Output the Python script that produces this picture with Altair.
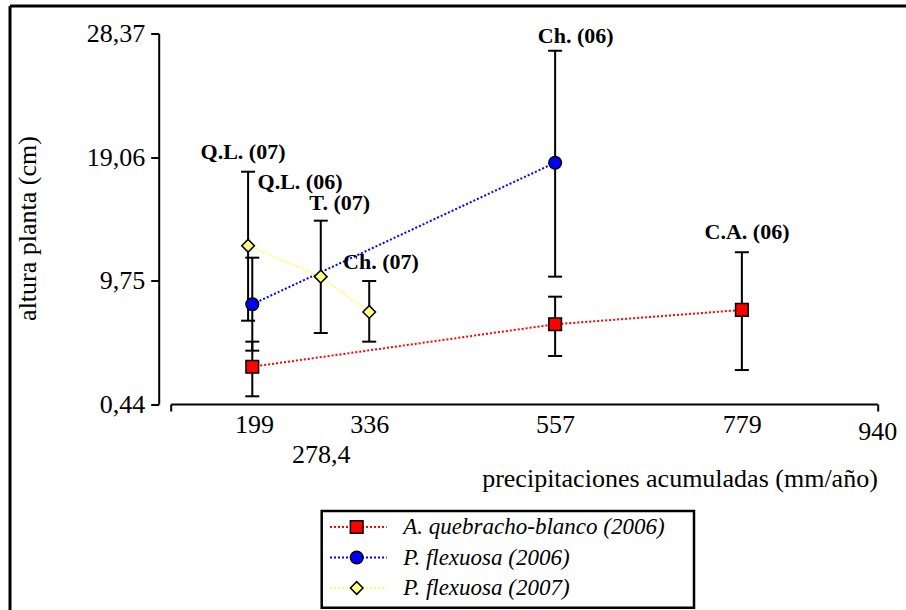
import altair as alt
import pandas as pd

# ---- data ----
series = ["A. quebracho-blanco (2006)", "P. flexuosa (2006)", "P. flexuosa (2007)"]
fill_colors = ["#ff0000", "#0000ff", "#ffff80"]
line_colors = ["#ff0000", "#0000ff", "#ffff66"]
shapes = ["square", "circle", "diamond"]
sizes = [160, 160, 185]

red_x = [197, 557, 779]
red_y = [3.25, 6.45, 7.53]
red_lo = [1.02, 4.06, 3.00]
red_hi = [5.14, 8.53, 11.88]

blue_x = [197, 557]
blue_y = [7.96, 18.63]
blue_lo = [4.46, 10.04]
blue_hi = [11.47, 27.07]

yel_x = [192, 278.4, 336]
yel_y = [12.37, 10.04, 7.38]
yel_lo = [6.72, 5.79, 5.14]
yel_hi = [17.95, 14.26, 9.71]

ann_text = ["Q.L. (07)", "Q.L. (06)", "T. (07)", "Ch. (07)", "Ch. (06)", "C.A. (06)"]
ann_x = [186, 253.7, 300.9, 350, 581.5, 785.1]
ann_y = [19.46, 17.2, 15.57, 11.12, 28.2, 13.43]

x_ticks = [100, 199, 278.4, 336, 557, 779, 940]
y_ticks = [0.44, 9.75, 19.06, 28.37]
x_domain = [100, 940]
y_domain = [0.44, 28.37]

# ---- tables ----
rows = []
for name, xs, ys, los, his in [
    (series[0], red_x, red_y, red_lo, red_hi),
    (series[1], blue_x, blue_y, blue_lo, blue_hi),
    (series[2], yel_x, yel_y, yel_lo, yel_hi),
]:
    for a, b, c, d in zip(xs, ys, los, his):
        rows.append({"serie": name, "x": a, "y": b, "lo": c, "hi": d})
df = pd.DataFrame(rows)
ann = pd.DataFrame({"t": ann_text, "x": ann_x, "y": ann_y})
leg = pd.DataFrame({"serie": series, "row": list(range(len(series)))})
one = pd.DataFrame({"k": [0]})

W, H = 706.6, 370.5
FONT = "Liberation Serif, Times New Roman, Times, serif"

xs = alt.Scale(domain=x_domain, nice=False, zero=False)
ys = alt.Scale(domain=y_domain, nice=False, zero=False)
stroke_sc = alt.Scale(domain=series, range=line_colors)
fill_sc = alt.Scale(domain=series, range=fill_colors)
shape_sc = alt.Scale(domain=series, range=shapes)
size_sc = alt.Scale(domain=series, range=sizes)

x_axis = alt.Axis(
    values=x_ticks,
    labelExpr="datum.value == 100 ? '' : replace(toString(datum.value), '.', ',')",
    tickSize=7,
    tickOpacity={"condition": {"test": "datum.value == 100 || datum.value == 940", "value": 1}, "value": 0},
    labelPadding={"condition": [{"test": "datum.value == 278.4", "value": 30},
                                {"test": "datum.value == 940", "value": 7}], "value": 0},
    labelFontSize=26,
    labelOverlap=False,
    labelFlush=False,
    labelBound=False,
    title="precipitaciones acumuladas (mm/año)",
    titleFontSize=26,
    titleAnchor="end",
    titleAlign="right",
    titleBaseline="middle",
    titleX=W,
    titleY=74,
)
y_axis = alt.Axis(
    values=y_ticks,
    labelExpr="replace(toString(datum.value), '.', ',')",
    tickSize=8,
    offset=12,
    labelPadding=6,
    labelFontSize=26,
    title="altura planta (cm)",
    titleFontSize=26,
    titleAngle=270,
    titleAlign="center",
    titleBaseline="middle",
    titleX=-131.7,
    titleY=194.5,
)

base = alt.Chart(df)

lines = base.mark_line(strokeDash=[2, 2], strokeWidth=2).encode(
    x=alt.X("x:Q", scale=xs, axis=x_axis),
    y=alt.Y("y:Q", scale=ys, axis=y_axis),
    stroke=alt.Stroke("serie:N", scale=stroke_sc, legend=None),
    detail="serie:N",
    order="x:Q",
)

err = base.mark_rule(color="black", strokeWidth=2).encode(
    x="x:Q", y="lo:Q", y2="hi:Q"
)
cap_lo = base.mark_tick(orient="horizontal", size=14, thickness=2, color="black", opacity=1).encode(
    x="x:Q", y="lo:Q"
)
cap_hi = base.mark_tick(orient="horizontal", size=14, thickness=2, color="black", opacity=1).encode(
    x="x:Q", y="hi:Q"
)

pts = base.mark_point(filled=True, stroke="black", strokeWidth=1.5, opacity=1, fillOpacity=1).encode(
    x="x:Q",
    y="y:Q",
    fill=alt.Fill("serie:N", scale=fill_sc, legend=None),
    shape=alt.Shape("serie:N", scale=shape_sc, legend=None),
    size=alt.Size("serie:N", scale=size_sc, legend=None),
)

labels = alt.Chart(ann).mark_text(
    font=FONT, fontWeight="bold", fontSize=22, baseline="middle", align="center", color="black"
).encode(x="x:Q", y="y:Q", text="t:N")

# ---- figure frame (top and left edges) ----
frame_top = alt.Chart(one).mark_rule(color="black", strokeWidth=3).encode(
    x=alt.value(-160.7), x2=alt.value(735.3), y=alt.value(-27.5)
)
frame_left = alt.Chart(one).mark_rule(color="black", strokeWidth=3).encode(
    x=alt.value(-160.7), y=alt.value(-27.5), y2=alt.value(576.5)
)

# ---- legend box ----
leg_box = alt.Chart(one).mark_rect(fill="white", stroke="black", strokeWidth=2.5).encode(
    x=alt.value(151), x2=alt.value(523.3), y=alt.value(477.5), y2=alt.value(574.2)
)
legb = alt.Chart(leg).transform_calculate(py="493.5 + 30.5 * datum.row")
leg_line = legb.mark_rule(strokeDash=[2, 2], strokeWidth=2).encode(
    x=alt.value(159.3), x2=alt.value(216),
    y=alt.Y("py:Q", scale=None),
    stroke=alt.Stroke("serie:N", scale=stroke_sc, legend=None),
)
leg_pts = legb.mark_point(filled=True, stroke="black", strokeWidth=1.5, opacity=1, fillOpacity=1).encode(
    x=alt.value(186),
    y=alt.Y("py:Q", scale=None),
    fill=alt.Fill("serie:N", scale=fill_sc, legend=None),
    shape=alt.Shape("serie:N", scale=shape_sc, legend=None),
    size=alt.Size("serie:N", scale=size_sc, legend=None),
)
leg_txt = legb.mark_text(
    font=FONT, fontStyle="italic", fontSize=23, align="left", baseline="middle", color="black"
).encode(x=alt.value(232.6), y=alt.Y("py:Q", scale=None), text="serie:N")

chart = alt.layer(
    frame_top, frame_left, lines, err, cap_lo, cap_hi, pts, labels,
    leg_box, leg_line, leg_pts, leg_txt,
).properties(
    width=W,
    height=H,
    autosize=alt.AutoSizeParams(type="none"),
    padding={"left": 170.7, "top": 33.5, "right": 28.7, "bottom": 206},
    background="white",
).configure_view(stroke=None).configure_axis(
    grid=False,
    domainColor="black",
    domainWidth=2,
    tickColor="black",
    tickWidth=2,
    labelColor="black",
    titleColor="black",
    labelFont=FONT,
    titleFont=FONT,
    titleFontWeight="normal",
)

chart.save("out.html", embed_options={"renderer": "svg", "actions": False})
